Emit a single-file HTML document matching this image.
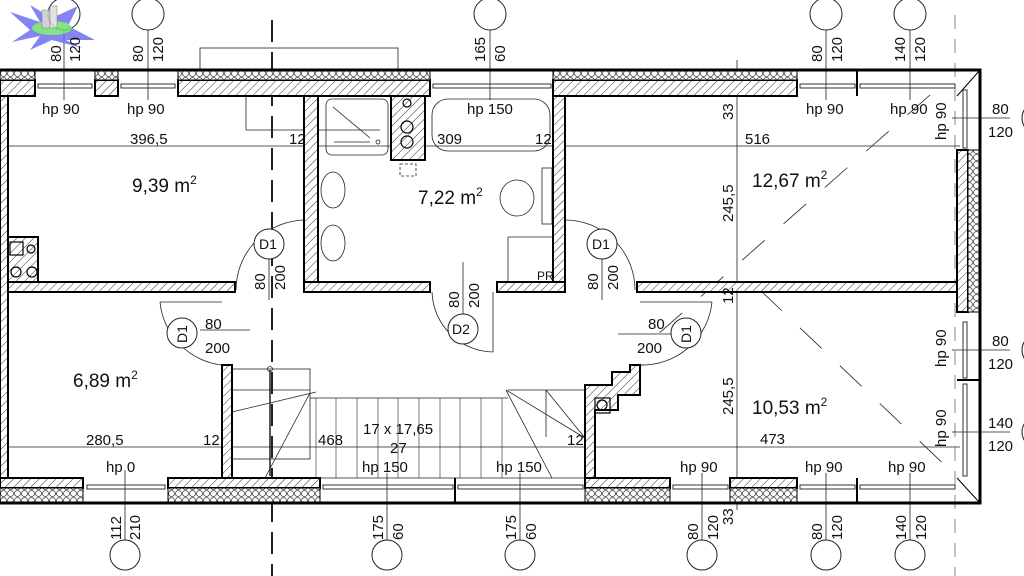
<!DOCTYPE html>
<html><head><meta charset="utf-8"><style>
html,body{margin:0;padding:0;background:#fff}
svg{display:block}
text{font-family:"Liberation Sans",sans-serif;fill:#111}
</style></head><body>
<svg width="1024" height="576" viewBox="0 0 1024 576" xmlns="http://www.w3.org/2000/svg">
<defs>
<pattern id="h" width="6" height="6" patternUnits="userSpaceOnUse" patternTransform="rotate(45)">
<rect width="6" height="6" fill="#fff"/><line x1="0" y1="0" x2="0" y2="6" stroke="#333" stroke-width="1"/></pattern>
<pattern id="ins" width="7" height="7" patternUnits="userSpaceOnUse">
<rect width="7" height="7" fill="#fff"/><circle cx="3.5" cy="3.5" r="3" fill="none" stroke="#444" stroke-width="0.8"/></pattern>
</defs>
<rect width="1024" height="576" fill="#fff"/>

<g stroke="#222" stroke-width="0.8" fill="none">
<line x1="272" y1="20" x2="272" y2="576" stroke-width="2" stroke-dasharray="22,10"/>
<line x1="955" y1="15" x2="955" y2="576" stroke-dasharray="14,10" stroke="#666"/>
<line x1="0" y1="146" x2="960" y2="146"/>
<line x1="0" y1="447" x2="960" y2="447"/>
<line x1="737" y1="60" x2="737" y2="510"/>
<rect x="200" y="48" width="198" height="22"/>
<line x1="246" y1="96" x2="246" y2="130"/><line x1="246" y1="130" x2="380" y2="130"/>
<line x1="930" y1="95" x2="640" y2="350" stroke-dasharray="30,25"/>
<line x1="760" y1="290" x2="950" y2="470" stroke-dasharray="30,25"/>
<line x1="64" y1="30" x2="64" y2="100"/><line x1="148" y1="30" x2="148" y2="100"/>
<line x1="490" y1="30" x2="490" y2="100"/><line x1="826" y1="30" x2="826" y2="100"/>
<line x1="910" y1="30" x2="910" y2="100"/>
<line x1="125" y1="470" x2="125" y2="540"/><line x1="387" y1="473" x2="387" y2="540"/>
<line x1="520" y1="473" x2="520" y2="540"/><line x1="702" y1="473" x2="702" y2="540"/>
<line x1="826" y1="473" x2="826" y2="540"/><line x1="910" y1="473" x2="910" y2="540"/>
<line x1="952" y1="118" x2="1010" y2="118"/><line x1="952" y1="350" x2="1010" y2="350"/>
<line x1="952" y1="432" x2="1010" y2="432"/>
<path d="M306 220 A70 70 0 0 0 236 290"/><line x1="306" y1="220" x2="306" y2="290"/>
<path d="M565 220 A70 70 0 0 1 635 290"/><line x1="565" y1="220" x2="565" y2="290"/>
<path d="M160 302 A70 70 0 0 0 222 365"/><line x1="160" y1="302" x2="222" y2="302"/>
<path d="M712 302 A70 70 0 0 1 640 365"/><line x1="712" y1="302" x2="640" y2="302"/>
<path d="M432 292 A62 62 0 0 0 493 352"/><line x1="493" y1="292" x2="493" y2="352"/>
<line x1="200" y1="330" x2="250" y2="330"/><line x1="618" y1="334" x2="672" y2="334"/>
<line x1="269" y1="250" x2="269" y2="300"/><line x1="602" y1="250" x2="602" y2="300"/>
<line x1="463" y1="262" x2="463" y2="318"/>
<rect x="232" y="369" width="78" height="90"/><line x1="232" y1="390" x2="310" y2="390"/>
<line x1="232" y1="412" x2="316" y2="392" /><line x1="265" y1="478" x2="310" y2="393"/>
<line x1="310" y1="398" x2="508" y2="398"/><line x1="508" y1="390" x2="585" y2="390"/>
<line x1="310" y1="478" x2="585" y2="478"/>
<g stroke-width="0.6">
<line x1="316" y1="398" x2="316" y2="478"/><line x1="336" y1="398" x2="336" y2="478"/>
<line x1="357" y1="398" x2="357" y2="478"/><line x1="378" y1="398" x2="378" y2="478"/>
<line x1="398" y1="398" x2="398" y2="478"/><line x1="419" y1="398" x2="419" y2="478"/>
<line x1="440" y1="398" x2="440" y2="478"/><line x1="460" y1="398" x2="460" y2="478"/>
<line x1="481" y1="398" x2="481" y2="478"/><line x1="502" y1="398" x2="502" y2="478"/>
</g>
<line x1="506" y1="390" x2="552" y2="478"/><line x1="506" y1="390" x2="585" y2="438"/>
<line x1="546" y1="390" x2="585" y2="438"/><line x1="546" y1="390" x2="546" y2="437"/>
<line x1="270" y1="370" x2="270" y2="476" stroke-width="1.5"/>
<circle cx="270" cy="369" r="2.5"/>
<rect x="326" y="99" width="62" height="56" rx="6"/><line x1="333" y1="107" x2="370" y2="138"/>
<line x1="334" y1="142" x2="370" y2="142"/><circle cx="378" cy="142" r="2"/>
<rect x="432" y="99" width="118" height="52" rx="16"/>
<ellipse cx="333" cy="190" rx="12" ry="18"/><ellipse cx="333" cy="243" rx="12" ry="18"/>
<ellipse cx="517" cy="198" rx="17" ry="18"/><rect x="542" y="168" width="10" height="56"/>
<path d="M508 290 V237 H553"/>
<rect x="400" y="164" width="16" height="12" stroke-dasharray="3,2"/>
</g>

<g fill="url(#h)" stroke="#000" stroke-width="2">
<rect x="0" y="80" width="35" height="16"/><rect x="95" y="80" width="23" height="16"/>
<rect x="178" y="80" width="252" height="16"/><rect x="553" y="80" width="244" height="16"/>
<rect x="0" y="96" width="8" height="384"/>
<rect x="304" y="96" width="14" height="196"/><rect x="553" y="96" width="12" height="196"/>
<rect x="391" y="96" width="34" height="64"/>
<rect x="8" y="282" width="227" height="10"/><rect x="304" y="282" width="126" height="10"/>
<rect x="497" y="282" width="68" height="10"/><rect x="637" y="282" width="321" height="10"/>
<rect x="957" y="150" width="11" height="162"/>
<rect x="222" y="365" width="10" height="115"/>
<path d="M585 385 H612 V372 H630 V365 H640 V395 H618 V410 H595 V480 H585 Z"/>
<rect x="0" y="478" width="83" height="10"/><rect x="168" y="478" width="152" height="10"/>
<rect x="585" y="478" width="85" height="10"/><rect x="730" y="478" width="67" height="10"/>
<rect x="8" y="237" width="30" height="45"/>
</g>
<g fill="url(#ins)" stroke="#000" stroke-width="1">
<rect x="0" y="71" width="35" height="9"/><rect x="95" y="71" width="23" height="9"/>
<rect x="178" y="71" width="252" height="9"/><rect x="553" y="71" width="244" height="9"/>
<rect x="968" y="150" width="12" height="162"/>
<rect x="0" y="488" width="83" height="14"/><rect x="168" y="488" width="152" height="14"/>
<rect x="585" y="488" width="85" height="14"/><rect x="730" y="488" width="67" height="14"/>
</g>
<path d="M0 70 H980 V503 H0" fill="none" stroke="#000" stroke-width="3"/>
<line x1="957" y1="96" x2="980" y2="70" stroke="#000" stroke-width="1"/>
<line x1="957" y1="478" x2="980" y2="503" stroke="#000" stroke-width="1"/>
<g fill="none" stroke="#333" stroke-width="1">
<rect x="38" y="84" width="54" height="4"/><rect x="121" y="84" width="54" height="4"/>
<rect x="433" y="84" width="118" height="4"/><rect x="800" y="84" width="55" height="4"/>
<rect x="860" y="84" width="95" height="4"/>
<rect x="87" y="485" width="78" height="4"/><rect x="323" y="485" width="130" height="4"/>
<rect x="458" y="485" width="125" height="4"/><rect x="673" y="485" width="55" height="4"/>
<rect x="800" y="485" width="55" height="4"/><rect x="860" y="485" width="95" height="4"/>
<rect x="963" y="90" width="4" height="58"/><rect x="963" y="322" width="4" height="56"/>
<rect x="963" y="384" width="4" height="92"/>
</g>
<g stroke="#000" stroke-width="2"><line x1="455" y1="478" x2="455" y2="503"/><line x1="857" y1="70" x2="857" y2="96"/><line x1="857" y1="478" x2="857" y2="503"/><line x1="957" y1="380" x2="980" y2="380"/></g>
<g fill="none" stroke="#000" stroke-width="1.2">
<rect x="10" y="242" width="13" height="13"/><circle cx="31" cy="249" r="4"/>
<circle cx="16" cy="272" r="5"/><circle cx="32" cy="272" r="5"/>
<circle cx="407" cy="103" r="4"/><circle cx="407" cy="127" r="6"/><circle cx="407" cy="142" r="6"/>
<rect x="595" y="398" width="15" height="15"/><circle cx="602" cy="405" r="5"/>
</g>
<g fill="#fff" stroke="#222" stroke-width="1">
<circle cx="269" cy="244" r="15"/><circle cx="602" cy="244" r="15"/>
<circle cx="182" cy="333" r="15"/><circle cx="686" cy="333" r="15"/><circle cx="463" cy="329" r="15"/>
<circle cx="64" cy="14" r="16"/><circle cx="148" cy="14" r="16"/><circle cx="490" cy="14" r="16"/>
<circle cx="826" cy="14" r="16"/><circle cx="910" cy="14" r="16"/>
<circle cx="125" cy="555" r="15"/><circle cx="387" cy="555" r="15"/><circle cx="520" cy="555" r="15"/>
<circle cx="702" cy="555" r="15"/><circle cx="826" cy="555" r="15"/><circle cx="910" cy="555" r="15"/>
<circle cx="1038" cy="118" r="16"/><circle cx="1038" cy="350" r="16"/><circle cx="1038" cy="432" r="16"/>
</g>
<g opacity="0.85">
<path d="M10 12 L40 22 L30 5 L52 18 L78 6 L68 26 L95 40 L66 40 L82 48 L52 40 L30 50 L40 36 L12 42 L30 30 Z" fill="#6f6ff0"/>
<ellipse cx="52" cy="28" rx="20" ry="7" fill="#6de06d"/>
<rect x="42" y="10" width="8" height="18" fill="#ccc" stroke="#666" stroke-width="0.5"/>
<rect x="50" y="6" width="7" height="22" fill="#ddd" stroke="#666" stroke-width="0.5"/>
</g>
<g font-size="15">
<text x="42" y="114">hp 90</text><text x="127" y="114">hp 90</text>
<text x="467" y="114">hp 150</text><text x="806" y="114">hp 90</text><text x="890" y="114">hp 90</text>
<text x="106" y="472">hp 0</text><text x="362" y="472">hp 150</text><text x="496" y="472">hp 150</text>
<text x="680" y="472">hp 90</text><text x="805" y="472">hp 90</text><text x="888" y="472">hp 90</text>
<text x="130" y="144" fill="#444">396,5</text><text x="289" y="144" fill="#444">12</text>
<text x="437" y="144" fill="#444">309</text><text x="535" y="144" fill="#444">12</text>
<text x="745" y="144" fill="#444">516</text>
<text x="86" y="445" fill="#444">280,5</text><text x="203" y="445" fill="#444">12</text>
<text x="318" y="445" fill="#444">468</text><text x="567" y="445" fill="#444">12</text>
<text x="760" y="444" fill="#444">473</text>
<text x="363" y="434">17 x 17,65</text><text x="390" y="453">27</text>
<text x="205" y="329">80</text><text x="205" y="353">200</text>
<text x="648" y="329">80</text><text x="637" y="353">200</text>
<text x="992" y="114">80</text><text x="988" y="137">120</text>
<text x="992" y="346">80</text><text x="988" y="369">120</text>
<text x="988" y="428">140</text><text x="988" y="451">120</text>
<text x="537" y="280" font-size="12">PR</text>
</g>
<g font-size="19">
<text x="132" y="192">9,39 m<tspan font-size="12" dy="-8">2</tspan></text>
<text x="418" y="204">7,22 m<tspan font-size="12" dy="-8">2</tspan></text>
<text x="752" y="187">12,67 m<tspan font-size="12" dy="-8">2</tspan></text>
<text x="73" y="387">6,89 m<tspan font-size="12" dy="-8">2</tspan></text>
<text x="752" y="414">10,53 m<tspan font-size="12" dy="-8">2</tspan></text>
</g>
<g font-size="14">
<text x="259" y="249">D1</text><text x="592" y="249">D1</text><text x="452" y="334">D2</text>
<text transform="translate(187,343) rotate(-90)">D1</text><text transform="translate(691,343) rotate(-90)">D1</text>
</g>
<g font-size="15">
<text transform="translate(61,62) rotate(-90)" fill="#555">80</text><text transform="translate(80,62) rotate(-90)">120</text>
<text transform="translate(143,62) rotate(-90)">80</text><text transform="translate(163,62) rotate(-90)">120</text>
<text transform="translate(485,62) rotate(-90)">165</text><text transform="translate(505,62) rotate(-90)">60</text>
<text transform="translate(822,62) rotate(-90)">80</text><text transform="translate(842,62) rotate(-90)">120</text>
<text transform="translate(905,62) rotate(-90)">140</text><text transform="translate(925,62) rotate(-90)">120</text>
<text transform="translate(121,540) rotate(-90)">112</text><text transform="translate(140,540) rotate(-90)">210</text>
<text transform="translate(383,540) rotate(-90)">175</text><text transform="translate(403,540) rotate(-90)">60</text>
<text transform="translate(516,540) rotate(-90)">175</text><text transform="translate(536,540) rotate(-90)">60</text>
<text transform="translate(698,540) rotate(-90)">80</text><text transform="translate(718,540) rotate(-90)">120</text>
<text transform="translate(822,540) rotate(-90)">80</text><text transform="translate(842,540) rotate(-90)">120</text>
<text transform="translate(906,540) rotate(-90)">140</text><text transform="translate(926,540) rotate(-90)">120</text>
<text transform="translate(265,290) rotate(-90)">80</text><text transform="translate(285,290) rotate(-90)">200</text>
<text transform="translate(598,290) rotate(-90)">80</text><text transform="translate(618,290) rotate(-90)">200</text>
<text transform="translate(459,308) rotate(-90)">80</text><text transform="translate(479,308) rotate(-90)">200</text>
<text transform="translate(733,120) rotate(-90)" fill="#444">33</text>
<text transform="translate(733,222) rotate(-90)" fill="#444">245,5</text>
<text transform="translate(733,304) rotate(-90)" fill="#444">12</text>
<text transform="translate(733,415) rotate(-90)" fill="#444">245,5</text>
<text transform="translate(733,525) rotate(-90)" fill="#444">33</text>
<text transform="translate(946,140) rotate(-90)">hp 90</text>
<text transform="translate(946,367) rotate(-90)">hp 90</text>
<text transform="translate(946,447) rotate(-90)">hp 90</text>
</g>
</svg>
</body></html>
